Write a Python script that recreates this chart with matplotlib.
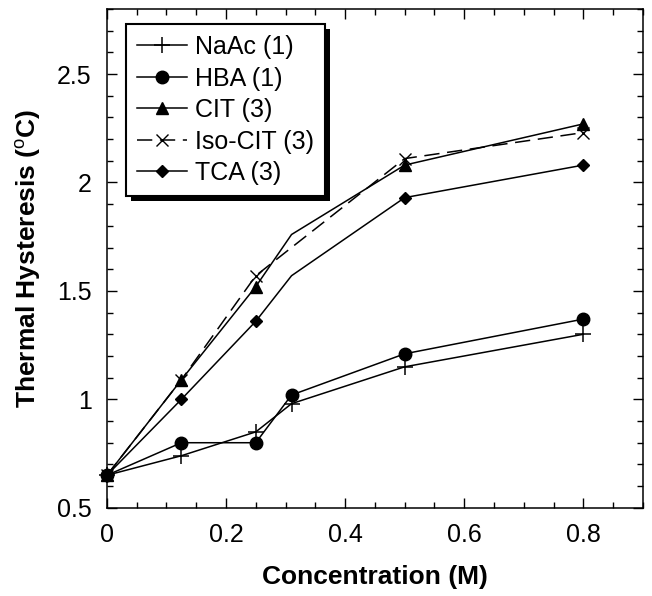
import matplotlib
matplotlib.use("Agg")
import matplotlib.pyplot as plt
import matplotlib.patheffects as pe
from matplotlib.ticker import MultipleLocator

plt.rcParams['font.family'] = ['Liberation Sans', 'DejaVu Sans']
plt.rcParams['mathtext.fontset'] = 'custom'
plt.rcParams['mathtext.rm'] = 'Liberation Sans'
plt.rcParams['mathtext.it'] = 'Liberation Sans'
plt.rcParams['mathtext.bf'] = 'Liberation Sans:bold'

# concentration (M)
conc = [0, 0.125, 0.25, 0.31, 0.5, 0.8]

# thermal hysteresis (C)
naac = [0.65, 0.74, 0.85, 0.98, 1.15, 1.30]
hba = [0.65, 0.80, 0.80, 1.02, 1.21, 1.37]
cit = [0.65, 1.09, 1.52, 1.76, 2.08, 2.27]
iso_cit = [0.65, 1.09, 1.57, 1.70, 2.11, 2.23]
tca = [0.65, 1.00, 1.36, 1.57, 1.93, 2.08]

labels = ["NaAc (1)", "HBA (1)", "CIT (3)", "Iso-CIT (3)", "TCA (3)"]

fig = plt.figure(figsize=(6.52, 5.96), dpi=100)
ax = fig.add_axes([0.164, 0.148, 0.822, 0.837])

# markers hidden at 0.31 for the last three series, as in the original
skip = [0, 1, 2, 4, 5]
ax.plot(conc, naac, color='black', lw=1.1, marker='+', ms=11, mew=1.1,
        label=labels[0], clip_on=False)
ax.plot(conc, hba, color='black', lw=1.1, marker='o', ms=9,
        label=labels[1], clip_on=False)
ax.plot(conc, cit, color='black', lw=1.1, marker='^', ms=8, markevery=skip,
        label=labels[2], clip_on=False)
ax.plot(conc, iso_cit, color='black', lw=1.1, ls=(0, (10, 5)), marker='x',
        ms=9, mew=1.0, markevery=skip, label=labels[3], clip_on=False)
ax.plot(conc, tca, color='black', lw=1.1, marker='D', ms=6, markevery=skip,
        label=labels[4], clip_on=False)

ax.set_xlim(0, 0.9)
ax.set_ylim(0.5, 2.8)
ax.xaxis.set_minor_locator(MultipleLocator(0.05))
ax.yaxis.set_minor_locator(MultipleLocator(0.1))
ax.set_xticks([0, 0.2, 0.4, 0.6, 0.8])
ax.set_xticklabels(['0', '0.2', '0.4', '0.6', '0.8'])
ax.set_yticks([0.5, 1, 1.5, 2, 2.5])
ax.set_yticklabels(['0.5', '1', '1.5', '2', '2.5'])
ax.tick_params(which='both', direction='in', top=True, right=True,
               labelsize=18, width=1.0)
ax.tick_params(which='major', length=7, pad=11)
ax.tick_params(which='minor', length=4)
for s in ax.spines.values():
    s.set_linewidth(1.1)

ax.set_xlabel('Concentration (M)', fontsize=19, fontweight='bold', labelpad=13)
ax.set_ylabel(r'Thermal Hysteresis ($^{o}$C)', fontsize=19,
              fontweight='bold', labelpad=10)

leg = ax.legend(loc='upper left', bbox_to_anchor=(0.036, 0.97),
                borderaxespad=0, fontsize=18, fancybox=False,
                edgecolor='black', framealpha=1, labelspacing=0.3,
                handlelength=2.0, handletextpad=0.3, borderpad=0.45)
frame = leg.get_frame()
frame.set_linewidth(1.5)
frame.set_path_effects([
    pe.SimplePatchShadow(offset=(3.5, -3.5), shadow_rgbFace='black', alpha=1),
    pe.Normal()])

fig.savefig('out.png', dpi=100)
